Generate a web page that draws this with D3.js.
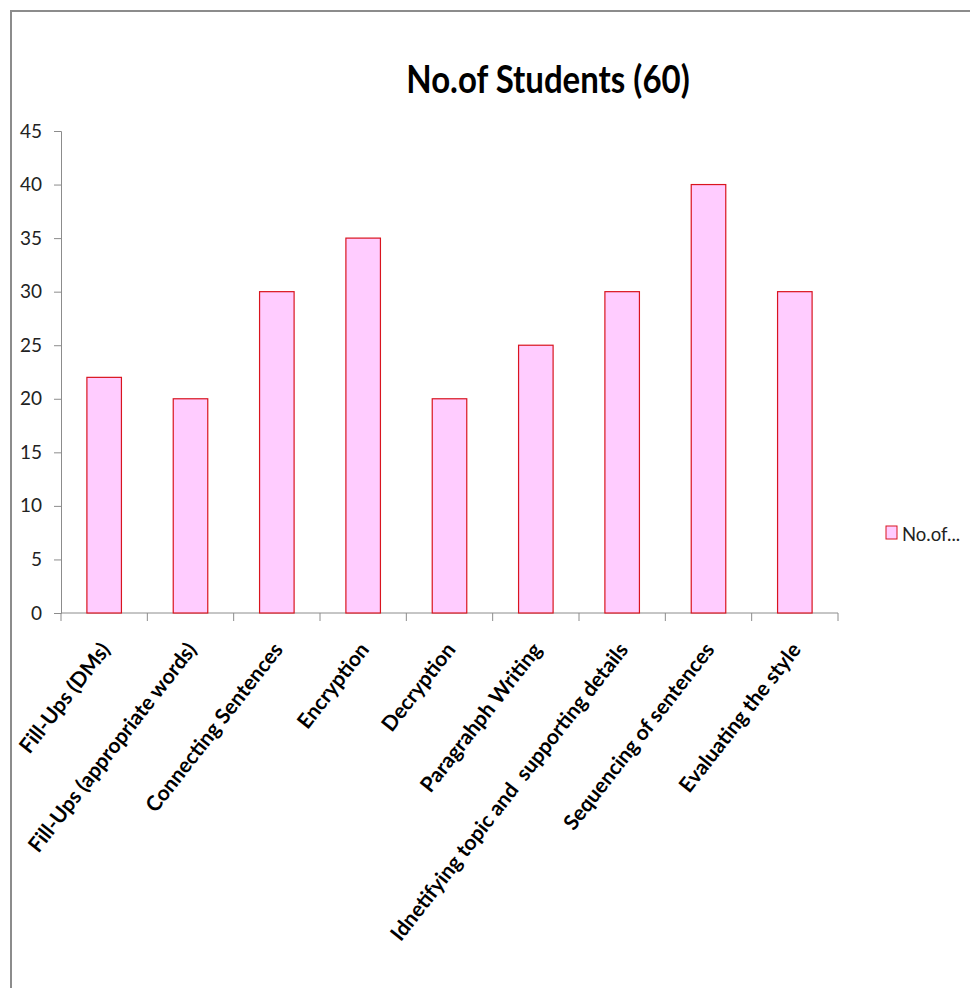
<!DOCTYPE html>
<html><head><meta charset="utf-8">
<script src="https://cdn.jsdelivr.net/npm/d3@7"></script>
<style>
html,body{margin:0;padding:0;background:#fff;}
svg{display:block;font-family:Lato,"Open Sans",sans-serif;}
</style></head>
<body>
<svg id="chart" width="970" height="988"></svg>
<script>
const categories = ["Fill-Ups (DMs)","Fill-Ups (appropriate words)","Connecting Sentences","Encryption","Decryption","Paragrahph Writing","Idnetifying topic and  supporting details","Sequencing of sentences","Evaluating the style"];
const values = [22,20,30,35,20,25,30,40,30];
const yTicks = [0,5,10,15,20,25,30,35,40,45];
const title = "No.of Students (60)";
const legendLabel = "No.of...";

const svg = d3.select("#chart");
// outer border
svg.append("path").attr("d","M11,988V11H970").attr("fill","none").attr("stroke","#8c8c8c").attr("stroke-width",2);

const x = d3.scaleBand().domain(categories).range([61,838]).paddingInner(0.6).paddingOuter(0.3);
const y = d3.scaleLinear().domain([0,45]).range([613,131]);

svg.append("text").attr("x",548).attr("y",93).attr("text-anchor","middle")
  .attr("font-weight","bold").attr("font-size",34).attr("fill","#000")
  .attr("transform","translate(548,93) scale(0.97,1.1) translate(-548,-93)").text(title);

// y axis
const yAxis = svg.append("g").attr("transform","translate(61,0)")
  .call(d3.axisLeft(y).tickValues(yTicks).tickSize(7).tickPadding(12));
yAxis.select(".domain").attr("stroke","#8c8c8c");
yAxis.selectAll(".tick line").attr("stroke","#8c8c8c");
yAxis.selectAll("text").attr("font-size",19).attr("fill","#222").attr("font-family","Lato,sans-serif");

// x axis with tick boundaries
const boundaries = d3.range(categories.length+1).map(i => 61 + i*(777/categories.length));
const xg = svg.append("g");
xg.append("line").attr("x1",61).attr("x2",838).attr("y1",613).attr("y2",613).attr("stroke","#8c8c8c");
xg.selectAll("line.t").data(boundaries).join("line").attr("class","t")
  .attr("x1",d=>d).attr("x2",d=>d).attr("y1",613).attr("y2",621).attr("stroke","#8c8c8c");

// bars
svg.append("g").selectAll("rect").data(values).join("rect")
  .attr("x",(d,i)=>x(categories[i]))
  .attr("width",x.bandwidth())
  .attr("y",d=>y(d))
  .attr("height",d=>y(0)-y(d))
  .attr("fill","#ffccff").attr("stroke","#d9141e").attr("stroke-width",1.2);

// x labels
svg.append("g").selectAll("text").data(categories).join("text")
  .attr("transform",d=>`translate(${x(d)+x.bandwidth()/2+7},${650}) rotate(-52)`)
  .attr("text-anchor","end").attr("font-weight","bold").attr("font-size",21)
  .attr("fill","#000").attr("xml:space","preserve").style("white-space","pre").text(d=>d);

// legend
svg.append("rect").attr("x",886).attr("y",526).attr("width",11).attr("height",13)
  .attr("fill","#ffccff").attr("stroke","#d9141e");
svg.append("text").attr("x",902).attr("y",541).attr("font-size",18.5).attr("fill","#222").text(legendLabel);
</script>
</body></html>
